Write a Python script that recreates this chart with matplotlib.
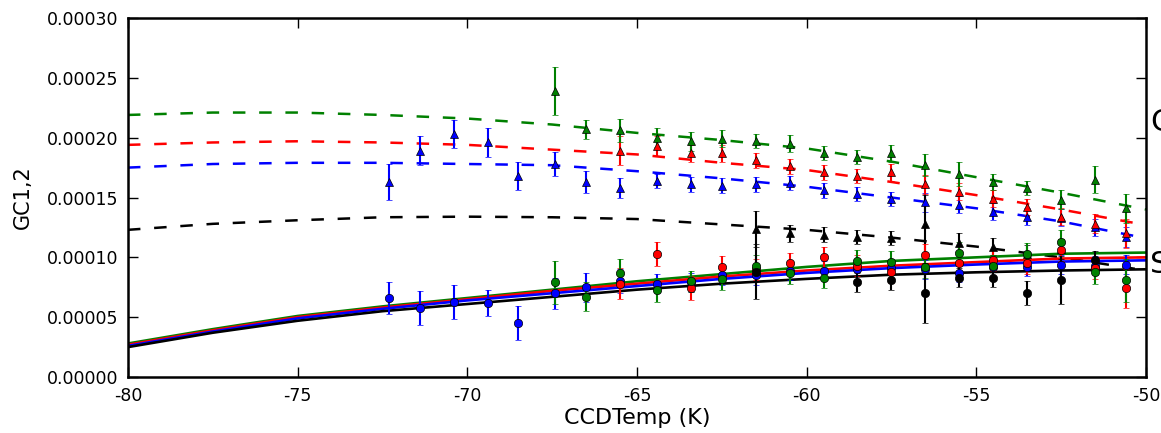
import numpy as np
import matplotlib
matplotlib.use("Agg")
import matplotlib.pyplot as plt
from matplotlib.ticker import FormatStrFormatter, MultipleLocator

plt.rcParams['axes.unicode_minus'] = False
plt.rcParams['font.family'] = 'DejaVu Sans'

xfit = [-80, -77.5, -75, -72.5, -70, -67.5, -65, -62.5, -60, -57.5, -55, -52.5, -50]
dash_g = [2.19, 2.21, 2.21, 2.19, 2.16, 2.11, 2.04, 1.98, 1.91, 1.80, 1.67, 1.54, 1.40]
dash_r = [1.94, 1.96, 1.97, 1.96, 1.94, 1.90, 1.86, 1.79, 1.73, 1.63, 1.52, 1.40, 1.27]
dash_b = [1.75, 1.78, 1.79, 1.79, 1.78, 1.77, 1.72, 1.66, 1.59, 1.50, 1.41, 1.30, 1.16]
dash_k = [1.23, 1.28, 1.31, 1.335, 1.34, 1.335, 1.32, 1.275, 1.23, 1.165, 1.09, 1.00, 0.89]
sol_g = [0.28, 0.40, 0.51, 0.59, 0.66, 0.73, 0.80, 0.86, 0.92, 0.97, 1.00, 1.03, 1.04]
sol_r = [0.27, 0.39, 0.50, 0.58, 0.65, 0.72, 0.78, 0.84, 0.89, 0.93, 0.96, 0.99, 1.00]
sol_b = [0.26, 0.38, 0.49, 0.57, 0.64, 0.70, 0.76, 0.82, 0.87, 0.91, 0.94, 0.965, 0.975]
sol_k = [0.25, 0.37, 0.47, 0.55, 0.61, 0.67, 0.73, 0.78, 0.82, 0.855, 0.875, 0.89, 0.90]

# measured points (triangles = upper set, circles = lower set), units 1e-4
t_all = [-72.3, -71.4, -70.4, -69.4, -68.5, -67.4, -66.5, -65.5, -64.4, -63.4, -62.5, -61.5,
         -60.5, -59.5, -58.5, -57.5, -56.5, -55.5, -54.5, -53.5, -52.5, -51.5, -50.6]
t_g = t_all[5:]
t_r = t_all[7:]
t_k = t_all[11:21]

tri_b = [1.63, 1.89, 2.03, 1.96, 1.68, 1.78, 1.63, 1.58, 1.64, 1.61, 1.60, 1.61, 1.62, 1.56,
         1.53, 1.49, 1.46, 1.44, 1.38, 1.34, 1.33, 1.25, 1.17]
tri_b_err = [0.15, 0.12, 0.12, 0.12, 0.12, 0.10, 0.09, 0.08, 0.06, 0.06, 0.06, 0.06, 0.06, 0.06,
             0.06, 0.06, 0.08, 0.07, 0.07, 0.07, 0.07, 0.07, 0.08]
tri_r = [1.89, 1.93, 1.87, 1.87, 1.81, 1.76, 1.71, 1.68, 1.71, 1.61, 1.55, 1.49, 1.42, 1.34, 1.28, 1.20]
tri_r_err = [0.12, 0.08, 0.07, 0.07, 0.06, 0.06, 0.06, 0.06, 0.07, 0.08, 0.07, 0.07, 0.07, 0.07, 0.08, 0.12]
tri_g = [2.39, 2.07, 2.06, 2.00, 1.97, 1.99, 1.97, 1.95, 1.87, 1.84, 1.87, 1.77, 1.70, 1.63,
         1.58, 1.48, 1.65, 1.41]
tri_g_err = [0.20, 0.08, 0.10, 0.08, 0.08, 0.07, 0.06, 0.07, 0.06, 0.06, 0.07, 0.09, 0.10, 0.07,
             0.06, 0.08, 0.11, 0.12]
tri_k = [1.24, 1.20, 1.19, 1.17, 1.16, 1.28, 1.12, 1.09, 1.03, 1.07]
tri_k_err = [0.15, 0.07, 0.06, 0.06, 0.06, 0.24, 0.08, 0.07, 0.07, 0.08]

cir_b = [0.66, 0.575, 0.625, 0.62, 0.45, 0.70, 0.75, 0.80, 0.78, 0.79, 0.85, 0.85, 0.89, 0.89,
         0.90, 0.91, 0.90, 0.87, 0.92, 0.92, 0.94, 0.93, 0.94]
cir_b_err = [0.13, 0.14, 0.14, 0.11, 0.14, 0.13, 0.12, 0.10, 0.08, 0.08, 0.08, 0.08, 0.08, 0.08,
             0.08, 0.08, 0.08, 0.08, 0.08, 0.08, 0.08, 0.08, 0.08]
cir_g = [0.79, 0.67, 0.87, 0.725, 0.80, 0.82, 0.93, 0.87, 0.83, 0.97, 0.96, 0.92, 1.04, 0.93,
         1.03, 1.125, 0.875, 0.81]
cir_g_err = [0.18, 0.12, 0.12, 0.10, 0.09, 0.09, 0.09, 0.09, 0.09, 0.09, 0.09, 0.09, 0.09, 0.09,
             0.09, 0.10, 0.10, 0.18]
cir_r = [0.78, 1.03, 0.74, 0.92, 0.90, 0.95, 1.00, 0.93, 0.875, 1.02, 0.95, 0.975, 0.95, 1.06, 0.91, 0.74]
cir_r_err = [0.13, 0.10, 0.10, 0.09, 0.09, 0.09, 0.09, 0.09, 0.09, 0.09, 0.09, 0.09, 0.09, 0.09, 0.09, 0.16]
c_k = [-61.5, -58.5, -57.5, -56.5, -55.5, -54.5, -53.5, -52.5, -51.5]
cir_k = [0.88, 0.79, 0.81, 0.70, 0.83, 0.83, 0.70, 0.81, 0.975]
cir_k_err = [0.23, 0.08, 0.08, 0.25, 0.08, 0.08, 0.10, 0.20, 0.08]

sc = 1e-4
fig = plt.figure(figsize=(11.61, 4.33), dpi=100)
fig.patch.set_facecolor('white')
ax = fig.add_axes([0.1102, 0.1293, 0.8768, 0.8291])

dash = (0, (5, 5.5))
for ys, c in [(dash_g, 'g'), (dash_r, 'r'), (dash_b, 'b'), (dash_k, 'k')]:
    ax.plot(xfit, np.array(ys) * sc, color=c, ls=dash, lw=1.8)
for ys, c in [(sol_g, 'g'), (sol_r, 'r'), (sol_b, 'b'), (sol_k, 'k')]:
    ax.plot(xfit, np.array(ys) * sc, color=c, ls='-', lw=1.9)

pts = [
    (t_all, tri_b, tri_b_err, 'b', '^'),
    (t_r, tri_r, tri_r_err, 'r', '^'),
    (t_g, tri_g, tri_g_err, 'g', '^'),
    (t_k, tri_k, tri_k_err, 'k', '^'),
    (t_all, cir_b, cir_b_err, 'b', 'o'),
    (t_r, cir_r, cir_r_err, 'r', 'o'),
    (t_g, cir_g, cir_g_err, 'g', 'o'),
    (c_k, cir_k, cir_k_err, 'k', 'o'),
]
for xs, ys, es, c, m in pts:
    ax.errorbar(xs, np.array(ys) * sc, yerr=np.array(es) * sc, fmt=m, color=c,
                mec='k', mew=0.5, ms=6, elinewidth=1.5, capsize=2, capthick=1.2)

ax.set_xlim(-80, -50)
ax.set_ylim(0, 0.0003)
ax.xaxis.set_major_locator(MultipleLocator(5))
ax.yaxis.set_major_locator(MultipleLocator(0.00005))
ax.yaxis.set_major_formatter(FormatStrFormatter('%.5f'))
ax.tick_params(direction='in', length=7, width=1, top=True, right=True,
               labelsize=12.5, pad=7)
for s in ax.spines.values():
    s.set_linewidth(1.8)

ax.set_xlabel('CCDTemp (K)', fontsize=16, labelpad=2)
ax.set_ylabel('GC1,2', fontsize=15, labelpad=10)

# labels sitting just outside the right edge (cut off in the source)
fig.text(0.9905, 0.718, 'C', fontsize=22, va='center', ha='left')
fig.text(0.9905, 0.388, 'S', fontsize=22, va='center', ha='left')

fig.savefig('out.png', dpi=100)
